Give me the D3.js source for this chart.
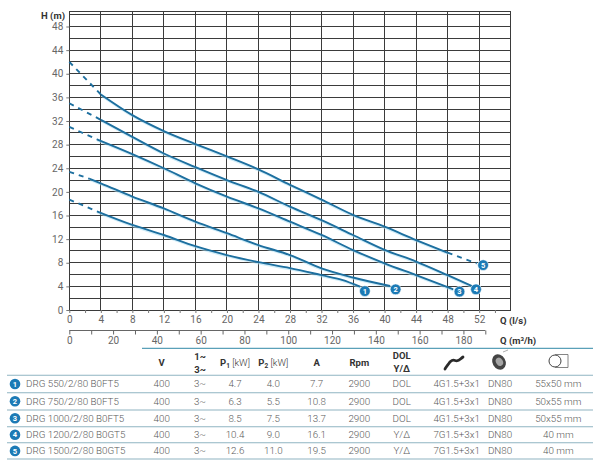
<!DOCTYPE html>
<html>
<head>
<meta charset="utf-8">
<title>DRG pump curves</title>
<script src="https://d3js.org/d3.v7.min.js"></script>
<style>
  body { margin: 0; background: #fff; }
  text { font-family: Roboto, "Open Sans", sans-serif; }
</style>
</head>
<body>
<div id="chart"></div>
<script>

// ---- data ----
var qTicks = [0, 4, 8, 12, 16, 20, 24, 28, 32, 36, 40, 44, 48, 52];
var m3hTicks = [0, 20, 40, 60, 80, 100, 120, 140, 160, 180];
var hTicks = [0, 4, 8, 12, 16, 20, 24, 28, 32, 36, 40, 44, 48];

// each curve: dashed start, solid part, optional dashed end  [Q l/s, H m]
var c1Start = [[0, 18.7], [3.5, 16.7]];
var c1Solid = [[3.5, 16.7], [8, 14.4], [12, 12.7], [16, 10.8], [20, 9.3], [24, 8.1], [28, 7.1], [32, 5.9], [34.6, 5.1], [36.9, 3.95]];
var c2Start = [[0, 23.4], [2.6, 22.2]];
var c2Solid = [[2.6, 22.2], [4, 21.45], [8, 19.2], [12, 17.2], [16, 14.95], [20, 13.0], [24, 11.0], [28, 9.3], [32, 7.05], [36, 5.5], [40.7, 4.06]];
var c3Start = [[0, 31.0], [3.5, 28.9]];
var c3Solid = [[3.5, 28.9], [8, 26.4], [12, 24.0], [16, 21.45], [20, 19.2], [24, 17.2], [28, 14.95], [32, 12.7], [36, 10.15], [40, 7.9], [44, 5.9], [48.7, 3.5]];
var c4Start = [[0, 35.0], [4, 32.2]];
var c4Solid = [[4, 32.2], [8, 29.3], [12, 26.5], [16, 24.2], [20, 22.0], [24, 20.0], [28, 17.5], [32, 15.2], [36, 12.7], [40, 10.2], [44, 8.2], [48, 5.9], [51.1, 4.06]];
var c5Start = [[0, 42.0], [4, 36.5]];
var c5Solid = [[4, 36.5], [8, 33.0], [12, 30.3], [16, 28.1], [20, 26.0], [24, 23.8], [28, 21.2], [32, 18.7], [36, 16.1], [40, 14.1], [44, 11.85], [48, 9.7]];
var c5End = [[48, 9.7], [51.7, 7.9]];

var markerNums = [1, 2, 3, 4, 5];
var markerPts = [[37.5, 3.2], [41.4, 3.5], [49.5, 3.1], [51.6, 3.5], [52.5, 7.6]];

// table
var models = ["DRG 550/2/80 B0FT5", "DRG 750/2/80 B0FT5", "DRG 1000/2/80 B0FT5", "DRG 1200/2/80 B0GT5", "DRG 1500/2/80 B0GT5"];
var volts = ["400", "400", "400", "400", "400"];
var phases = ["3~", "3~", "3~", "3~", "3~"];
var p1 = ["4.7", "6.3", "8.5", "10.4", "12.6"];
var p2 = ["4.0", "5.5", "7.5", "9.0", "11.0"];
var amps = ["7.7", "10.8", "13.7", "16.1", "19.5"];
var rpm = ["2900", "2900", "2900", "2900", "2900"];
var starts = ["DOL", "DOL", "DOL", "Y/Δ", "Y/Δ"];
var cables = ["4G1.5+3x1", "4G1.5+3x1", "4G1.5+3x1", "7G1.5+3x1", "7G1.5+3x1"];
var outlets = ["DN80", "DN80", "DN80", "DN80", "DN80"];
var passages = ["55x50 mm", "50x55 mm", "50x55 mm", "40 mm", "40 mm"];

// ---- layout ----
var W = 600, H = 466;
var blue = "#1d6f9f", dotBlue = "#1c7ab5", grid = "#3b3b3b", txt = "#5a5a5a";

var svg = d3.select("#chart").append("svg")
    .attr("width", W)
    .attr("height", H);

var x = d3.scaleLinear().domain([0, 56]).range([69.3, 510.7]);
var xm = d3.scaleLinear().domain([0, 56 * 3.6]).range([69.3, 510.7]);
var y = d3.scaleLinear().domain([0, 48]).range([310, 26.5]);

// grid
var g = svg.append("g").attr("shape-rendering", "crispEdges");
g.selectAll(".hg")
  .data(d3.range(0, 51, 2).concat([50.5]))
  .enter().append("line")
    .attr("x1", x(0)).attr("x2", x(56))
    .attr("y1", function(d) { return y(d); })
    .attr("y2", function(d) { return y(d); })
    .attr("stroke", grid).attr("stroke-width", 1);
g.selectAll(".vg")
  .data(d3.range(0, 57, 4))
  .enter().append("line")
    .attr("x1", function(d) { return x(d); })
    .attr("x2", function(d) { return x(d); })
    .attr("y1", y(50.5)).attr("y2", y(0))
    .attr("stroke", grid).attr("stroke-width", 1);

// H axis
var yAxis = svg.append("g")
    .attr("transform", "translate(" + x(0) + ",0)")
    .call(d3.axisLeft(y).tickValues(hTicks).tickSize(3).tickPadding(3));
yAxis.select(".domain").remove();
yAxis.selectAll("line").attr("stroke", "#777");
yAxis.selectAll("text").attr("fill", "#666").style("font-size", "10px");

svg.append("text")
    .attr("x", 65).attr("y", 19)
    .attr("text-anchor", "end")
    .style("font-size", "9.5px").style("font-weight", "bold")
    .attr("fill", "#333")
    .text("H (m)");

// Q l/s axis
var xAxis = svg.append("g")
    .attr("transform", "translate(0," + y(0) + ")")
    .call(d3.axisBottom(x).tickValues(d3.range(0, 56, 2)).tickSize(3).tickPadding(3)
      .tickFormat(function(d) { return qTicks.indexOf(d) >= 0 ? d : ""; }));
xAxis.select(".domain").remove();
xAxis.selectAll("line").attr("stroke", "#777");
xAxis.selectAll("text").attr("fill", "#666").style("font-size", "10px");

svg.append("text")
    .attr("x", 500).attr("y", 324)
    .style("font-size", "9.5px").style("font-weight", "bold")
    .attr("fill", "#333")
    .text("Q (l/s)");

// Q m3/h axis
var mAxis = svg.append("g")
    .attr("transform", "translate(0,330.5)")
    .call(d3.axisBottom(xm).tickValues(d3.range(0, 191, 10)).tickSize(4).tickPadding(2).tickSizeOuter(0)
      .tickFormat(function(d) { return m3hTicks.indexOf(d) >= 0 ? d : ""; }));
mAxis.select(".domain").attr("stroke", "#666").attr("d", "M" + xm(0) + ",0H" + xm(190));
mAxis.selectAll("line").attr("stroke", "#666");
mAxis.selectAll("text").attr("fill", "#666").style("font-size", "10px");

svg.append("text")
    .attr("x", 500).attr("y", 344)
    .style("font-size", "9.5px").style("font-weight", "bold")
    .attr("fill", "#333")
    .text("Q (m³/h)");

// curves
var line = d3.line()
    .x(function(d) { return x(d[0]); })
    .y(function(d) { return y(d[1]); })
    .curve(d3.curveMonotoneX);

var solids = [c1Solid, c2Solid, c3Solid, c4Solid, c5Solid];
var dashes = [c1Start, c2Start, c3Start, c4Start, c5Start, c5End];

svg.selectAll(".halo")
  .data(solids)
  .enter().append("path")
    .attr("d", line)
    .attr("fill", "none")
    .attr("stroke", "#a8dcf2")
    .attr("stroke-opacity", 0.55)
    .attr("stroke-width", 2.6)
    .attr("transform", "translate(0.5,1)");
svg.selectAll(".solid")
  .data(solids)
  .enter().append("path")
    .attr("d", line)
    .attr("fill", "none")
    .attr("stroke", blue)
    .attr("stroke-width", 1.9);
svg.selectAll(".dash")
  .data(dashes)
  .enter().append("path")
    .attr("d", line)
    .attr("fill", "none")
    .attr("stroke", blue)
    .attr("stroke-width", 1.9)
    .attr("stroke-dasharray", "5,5");

// numbered markers
var mk = svg.selectAll(".mk")
  .data(markerNums)
  .enter().append("g")
    .attr("transform", function(d, i) {
      return "translate(" + x(markerPts[i][0]) + "," + y(markerPts[i][1]) + ")";
    });
mk.append("circle").attr("r", 5.4).attr("fill", dotBlue).attr("stroke", "#fff").attr("stroke-width", 0.6);
mk.append("text")
    .attr("text-anchor", "middle").attr("dy", "0.36em")
    .attr("fill", "#fff")
    .style("font-size", "7.5px").style("font-weight", "bold")
    .text(function(d) { return d; });

// ---- table ----
var rowLines = [375.3, 392.7, 410, 426.7, 442.7, 459];
var rowMid = [384, 401.3, 418.3, 434.7, 450.9];
var cols = [161.7, 200, 235, 273.3, 316.7, 359.3, 401.7, 456.7, 500, 558.3];
var colData = [volts, phases, p1, p2, amps, rpm, starts, cables, outlets, passages];

svg.append("line")
    .attr("x1", 142).attr("x2", 593)
    .attr("y1", 348.3).attr("y2", 348.3)
    .attr("stroke", "#5aa0b8").attr("stroke-width", 1.2);
svg.selectAll(".rl")
  .data(rowLines)
  .enter().append("line")
    .attr("x1", 7).attr("x2", 593)
    .attr("y1", function(d) { return d; })
    .attr("y2", function(d) { return d; })
    .attr("stroke", "#8fb4c2").attr("stroke-width", 1.1);

// header
var hd = svg.append("g").attr("fill", "#333").style("font-size", "9.5px").style("font-weight", "bold");
hd.append("text").attr("x", cols[0]).attr("y", 366).attr("text-anchor", "middle").text("V");
hd.append("text").attr("x", cols[1]).attr("y", 360).attr("text-anchor", "middle").text("1~");
hd.append("text").attr("x", cols[1]).attr("y", 372.5).attr("text-anchor", "middle").text("3~");
[["1", cols[2]], ["2", cols[3]]].forEach(function(p) {
  var t = hd.append("text").attr("x", p[1]).attr("y", 366).attr("text-anchor", "middle");
  t.append("tspan").text("P");
  t.append("tspan").attr("dy", 2).style("font-size", "6.5px").text(p[0]);
  t.append("tspan").attr("dy", -2).style("font-weight", "300").text(" [kW]");
});
hd.append("text").attr("x", cols[4]).attr("y", 366).attr("text-anchor", "middle").text("A");
hd.append("text").attr("x", cols[5]).attr("y", 366).attr("text-anchor", "middle").text("Rpm");
hd.append("text").attr("x", cols[6]).attr("y", 359).attr("text-anchor", "middle").text("DOL");
hd.append("text").attr("x", cols[6]).attr("y", 371.5).attr("text-anchor", "middle").text("Y/Δ");

// header icons: cable, outlet, solids passage
svg.append("path")
    .attr("d", "M445,369 C449,363 451,359 455,360.5 C459,362 460,359 463,357")
    .attr("fill", "none").attr("stroke", "#2a2a2a").attr("stroke-width", 2.8).attr("stroke-linecap", "round");
svg.append("ellipse").attr("cx", 499).attr("cy", 362).attr("rx", 6.5).attr("ry", 8)
    .attr("transform", "rotate(-30,499,362)").attr("fill", "#444");
svg.append("ellipse").attr("cx", 499.5).attr("cy", 362).attr("rx", 3.4).attr("ry", 4.4)
    .attr("transform", "rotate(-30,499,362)").attr("fill", "#a5a5a5");
svg.append("path").attr("d", "M503,352 L508,350")
    .attr("stroke", "#999").attr("stroke-width", 0.8);
svg.append("circle").attr("cx", 555).attr("cy", 361).attr("r", 6)
    .attr("fill", "#fff").attr("stroke", "#444").attr("stroke-width", 1);
svg.append("path").attr("d", "M555,354.5H568V367.5H555")
    .attr("fill", "none").attr("stroke", "#666").attr("stroke-width", 0.8);

// body rows
var body = svg.append("g").attr("fill", txt).style("font-size", "9.8px").style("font-weight", "300");
models.forEach(function(m, i) {
  var cy = rowMid[i];
  svg.append("circle").attr("cx", 15).attr("cy", cy).attr("r", 5.3).attr("fill", dotBlue);
  svg.append("text").attr("x", 15).attr("y", cy).attr("dy", "0.36em")
      .attr("text-anchor", "middle").attr("fill", "#fff")
      .style("font-size", "7.5px").style("font-weight", "bold")
      .text(markerNums[i]);
  body.append("text").attr("x", 26).attr("y", cy).attr("dy", "0.35em").text(m);
  colData.forEach(function(arr, j) {
    body.append("text").attr("x", cols[j]).attr("y", cy).attr("dy", "0.35em")
        .attr("text-anchor", "middle").text(arr[i]);
  });
});

</script>
</body>
</html>
